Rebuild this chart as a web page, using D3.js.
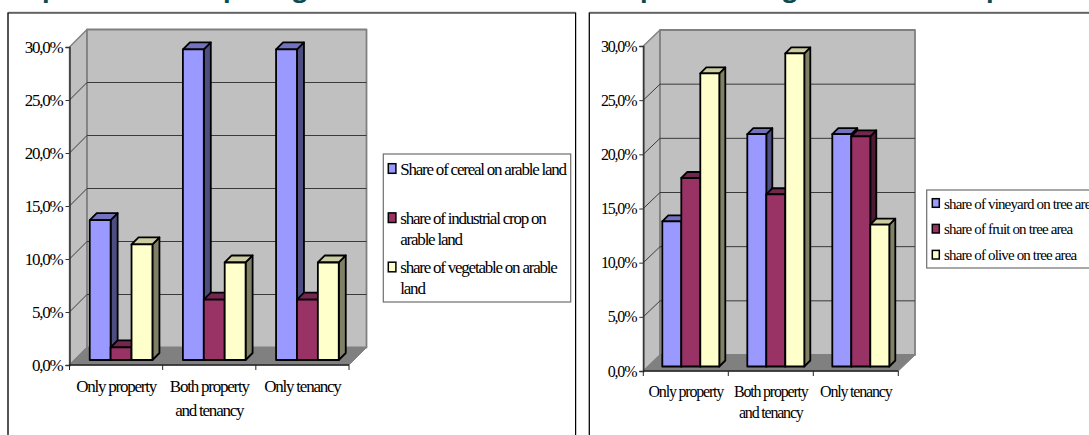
<!DOCTYPE html>
<html>
<head>
<meta charset="utf-8">
<script src="https://cdn.jsdelivr.net/npm/d3@7"></script>
<style>
  html, body { margin: 0; padding: 0; background: #fff; overflow: hidden; }
  svg { display: block; }
  text { font-family: "Liberation Serif", serif; fill: #000; }
</style>
</head>
<body>
<svg id="chart" width="1089" height="435"></svg>
<script>
// Categories shared by both panels
const tenureCategories = ["Only property", "Both property|and tenancy", "Only tenancy"];
const valueTicks = [0, 5, 10, 15, 20, 25, 30];

// Arable land shares (percent)
const cerealShare = [13.2, 29.3, 29.3];
const industrialShare = [1.2, 5.7, 5.7];
const vegetableShare = [10.9, 9.2, 9.2];

// Tree area shares (percent)
const vineyardShare = [13.4, 21.45, 21.45];
const fruitShare = [17.4, 15.9, 21.25];
const oliveShare = [27.05, 28.9, 13.1];

const arableLegend = [["Share of cereal on arable land"], ["share of industrial crop on", "arable land"], ["share of vegetable on arable", "land"]];
const treeLegend = [["share of vineyard on tree area"], ["share of fruit on tree area"], ["share of olive on tree area"]];

// Heading letters whose lower parts stay visible along the top edge
const headingLetters = [["p", 50], ["p", 231], ["g", 300], ["p", 648], ["g", 790], ["p", 994]];

const palette = [
  { front: "#9999FF", side: "#4D4D80", top: "#7272BF" },
  { front: "#993366", side: "#4D1A33", top: "#732650" },
  { front: "#FFFFCC", side: "#808066", top: "#CCCCA3" }
];

const svg = d3.select("#chart");
const decimalComma = d3.formatLocale({ decimal: ",", thousands: ".", grouping: [3], currency: ["", ""] });
const formatTick = v => decimalComma.format(".1f")(v) + "%";

// Heading, cut off by the top of the page
svg.append("g").selectAll("text").data(headingLetters).join("text")
  .attr("x", d => d[1]).attr("y", -3)
  .attr("text-anchor", "middle")
  .style("font-family", "'Open Sans', sans-serif")
  .style("font-weight", 700)
  .style("font-size", "25px")
  .style("fill", "#0B4A50")
  .text(d => d[0]);

// Panel frames run off the bottom of the page; the second also runs off the right
function frame(x0, x1) {
  const path = d3.path();
  path.moveTo(x0, 435);
  path.lineTo(x0, 13);
  path.lineTo(x1, 13);
  if (x1 < 1089) path.lineTo(x1, 435);
  svg.append("path").attr("d", path.toString()).attr("fill", "none").attr("stroke", "#A8A8A8").attr("stroke-width", 1).attr("transform", "translate(0,-0.8)");
  svg.append("path").attr("d", path.toString()).attr("fill", "none").attr("stroke", "#000").attr("stroke-width", 1.2);
}
frame(8, 575.6);
frame(589.3, 1095);

function poly(g, pts, fill, stroke, width) {
  return g.append("polygon")
    .attr("points", pts.map(p => p.join(",")).join(" "))
    .attr("fill", fill)
    .attr("stroke", stroke)
    .attr("stroke-width", width)
    .attr("stroke-linejoin", "round");
}

function drawPanel(cfg) {
  const g = svg.append("g");
  const y = d3.scaleLinear().domain([0, 30]).range([cfg.y0, cfg.y30]);
  const x = d3.scaleBand().domain(tenureCategories).range([cfg.x0, cfg.x1]);
  const d = cfg.depth, dy = cfg.depthY;
  const [l, r] = x.range();

  // Side wall, back wall and floor
  poly(g, [[l, y(30)], [l + d, y(30) - dy], [l + d, y(0) - dy], [l, y(0)]], "#C0C0C0", "#808080", 1.4);
  poly(g, [[l + d, y(30) - dy], [r + d, y(30) - dy], [r + d, y(0) - dy], [l + d, y(0) - dy]], "#C0C0C0", "#808080", 1.8);
  poly(g, [[l, y(0)], [l + d, y(0) - dy], [r + d, y(0) - dy], [r, y(0)]], "#808080", "#808080", 1);

  // Gridlines fold from the side wall onto the back wall
  g.append("g").selectAll("path").data(valueTicks.filter(t => t > 0 && t < 30)).join("path")
    .attr("d", t => `M${l},${y(t)}L${l + d},${y(t) - dy}L${r + d},${y(t) - dy}`)
    .attr("fill", "none").attr("stroke", "#3A3A3A").attr("stroke-width", 1);

  // Columns sit slightly in front of the back wall; drawn left to right so each overlaps the last
  const bars = g.append("g");
  const inner = d3.scaleBand().domain(d3.range(cfg.series.length)).range([0, cfg.barWidth * cfg.series.length]);
  const pad = (x.bandwidth() - cfg.barWidth * cfg.series.length) / 2;
  const bd = cfg.barDepth, ox = cfg.barShift, oy = cfg.barLift;
  tenureCategories.forEach((cat, ci) => {
    cfg.series.forEach((values, si) => {
      const bx0 = x(cat) + pad + ox + inner(si), bx1 = bx0 + inner.bandwidth();
      const bt = y(values[ci]) - oy, bb = y(0) - oy;
      const c = palette[si];
      poly(bars, [[bx1, bt], [bx1 + bd, bt - bd], [bx1 + bd, bb - bd], [bx1, bb]], c.side, "#000", 1.8);
      poly(bars, [[bx0, bt], [bx0 + bd, bt - bd], [bx1 + bd, bt - bd], [bx1, bt]], c.top, "#000", 1.8);
      poly(bars, [[bx0, bt], [bx1, bt], [bx1, bb], [bx0, bb]], c.front, "#000", 1.8);
    });
  });

  // Value axis
  const axisY = g.append("g").attr("transform", `translate(${l},0)`)
    .call(d3.axisLeft(y).tickValues(valueTicks).tickFormat(formatTick).tickSize(4).tickPadding(3));
  axisY.select(".domain").attr("stroke", "#333").attr("stroke-width", 1.5);
  axisY.selectAll(".tick line").attr("stroke", "#333");
  axisY.selectAll(".tick text")
    .style("font-family", "'Liberation Serif', serif")
    .style("font-size", cfg.fontSize + "px")
    .style("letter-spacing", cfg.spacing + "px");

  // Category baseline with ticks at the band edges
  g.append("line").attr("x1", l).attr("x2", r).attr("y1", y(0)).attr("y2", y(0)).attr("stroke", "#222").attr("stroke-width", 1.4);
  g.append("g").selectAll("line").data([...x.domain().map(c => x(c)), r]).join("line")
    .attr("x1", v => v).attr("x2", v => v)
    .attr("y1", y(0)).attr("y2", y(0) + 5)
    .attr("stroke", "#222");

  // Category labels, wrapped on "|"
  g.append("g").selectAll("text").data(tenureCategories).join("text")
    .attr("text-anchor", "middle")
    .style("font-size", cfg.fontSize + "px")
    .style("letter-spacing", cfg.spacing + "px")
    .each(function (cat) {
      d3.select(this).selectAll("tspan").data(cat.split("|")).join("tspan")
        .attr("x", x(cat) + x.bandwidth() / 2)
        .attr("y", (_, i) => cfg.labelY + i * cfg.labelLine)
        .text(t => t);
    });

  // Legend
  const lg = cfg.legend;
  g.append("rect").attr("x", lg.x).attr("y", lg.y).attr("width", lg.w).attr("height", lg.h)
    .attr("fill", "#fff").attr("stroke", "#6E6E6E").attr("stroke-width", 1.2);
  cfg.legendText.forEach((lines, i) => {
    g.append("rect").attr("x", lg.x + lg.swatchX).attr("y", lg.rows[i] - lg.swatchH).attr("width", lg.swatchW).attr("height", lg.swatchH)
      .attr("fill", palette[i].front).attr("stroke", "#000").attr("stroke-width", 1.5);
    g.append("g").selectAll("text").data(lines).join("text")
      .attr("x", lg.x + lg.textX)
      .attr("y", (_, k) => lg.rows[i] + lg.baseShift + k * lg.line)
      .style("font-size", lg.fontSize + "px")
      .style("letter-spacing", lg.spacing + "px")
      .text(t => t);
  });
}

drawPanel({
  series: [cerealShare, industrialShare, vegetableShare],
  legendText: arableLegend,
  x0: 69.5, x1: 349, y0: 365, y30: 47,
  depth: 17.5, depthY: 17.5,
  barWidth: 20.9, barDepth: 7, barShift: 5, barLift: 5,
  fontSize: 17, spacing: -1.23, labelY: 392, labelLine: 24,
  legend: { x: 383.3, y: 154, w: 187.4, h: 148, swatchW: 7.6, swatchH: 9.6, swatchX: 5, textX: 17, rows: [173.3, 222.5, 271.8], baseShift: 1.4, line: 21, fontSize: 17, spacing: -1.23 }
});

drawPanel({
  series: [vineyardShare, fruitShare, oliveShare],
  legendText: treeLegend,
  x0: 643.3, x1: 898.3, y0: 371, y30: 46,
  depth: 16.7, depthY: 16,
  barWidth: 19, barDepth: 6, barShift: 5, barLift: 4.5,
  fontSize: 16, spacing: -1.2, labelY: 397, labelLine: 21,
  legend: { x: 926.7, y: 190, w: 175, h: 78, swatchW: 7, swatchH: 8.6, swatchX: 5.6, textX: 17.3, rows: [207.3, 233, 259], baseShift: 1.2, line: 20, fontSize: 15, spacing: -0.85 }
});
</script>
</body>
</html>
